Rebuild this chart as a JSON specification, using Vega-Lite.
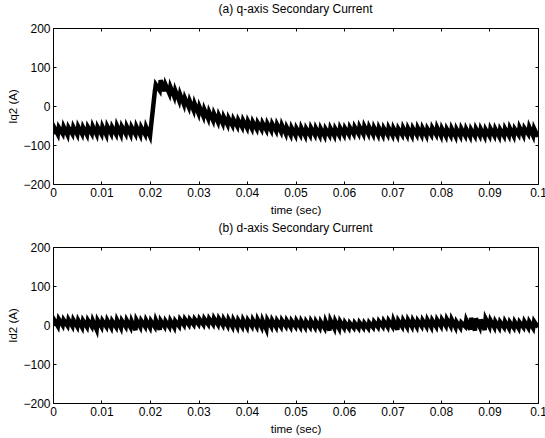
{
"$schema": "https://vega.github.io/schema/vega-lite/v6.json",
"padding": {"left": 7, "top": 2, "right": 0, "bottom": 0},
"background": "white",
"datasets": {"s": [
{"t":0,"q":-72,"d":-2},{"t":0.0002,"q":-54,"d":14},
{"t":0.001,"q":-73,"d":-3},{"t":0.0012,"q":-55,"d":15},
{"t":0.002,"q":-71,"d":-1},{"t":0.0022,"q":-53,"d":13},
{"t":0.003,"q":-74,"d":-2},{"t":0.0032,"q":-55,"d":14},
{"t":0.004,"q":-72,"d":-3},{"t":0.0042,"q":-54,"d":13},
{"t":0.005,"q":-73,"d":-4},{"t":0.0052,"q":-53,"d":12},
{"t":0.006,"q":-72,"d":-6},{"t":0.0062,"q":-55,"d":11},
{"t":0.007,"q":-74,"d":-5},{"t":0.0072,"q":-54,"d":12},
{"t":0.008,"q":-71,"d":-4},{"t":0.0082,"q":-52,"d":11},
{"t":0.009,"q":-73,"d":-12},{"t":0.0092,"q":-54,"d":12},
{"t":0.01,"q":-72,"d":-5},{"t":0.0102,"q":-53,"d":11},
{"t":0.011,"q":-74,"d":-4},{"t":0.0112,"q":-52,"d":12},
{"t":0.012,"q":-71,"d":-6},{"t":0.0122,"q":-54,"d":10},
{"t":0.013,"q":-72,"d":-5},{"t":0.0132,"q":-51,"d":13},
{"t":0.014,"q":-73,"d":-7},{"t":0.0142,"q":-53,"d":11},
{"t":0.015,"q":-71,"d":-4},{"t":0.0152,"q":-52,"d":12},
{"t":0.016,"q":-73,"d":-6},{"t":0.0162,"q":-54,"d":10},
{"t":0.017,"q":-72,"d":-13},{"t":0.0172,"q":-53,"d":13},
{"t":0.018,"q":-74,"d":-5},{"t":0.0182,"q":-55,"d":11},
{"t":0.019,"q":-73,"d":-4},{"t":0.0192,"q":-54,"d":12},
{"t":0.02,"q":-77,"d":-6},{"t":0.0202,"q":-53,"d":10},
{"t":0.021,"q":38,"d":-5},{"t":0.0212,"q":55,"d":12},
{"t":0.022,"q":40,"d":-12},{"t":0.0222,"q":66,"d":11},
{"t":0.023,"q":38,"d":-4},{"t":0.0232,"q":55,"d":10},
{"t":0.024,"q":32,"d":-5},{"t":0.0242,"q":49,"d":11},
{"t":0.025,"q":24,"d":-6},{"t":0.0252,"q":40,"d":10},
{"t":0.026,"q":14,"d":-3},{"t":0.0262,"q":30,"d":14},
{"t":0.027,"q":4,"d":0},{"t":0.0272,"q":20,"d":15},
{"t":0.028,"q":-3,"d":1},{"t":0.0282,"q":13,"d":14},
{"t":0.029,"q":-11,"d":1},{"t":0.0292,"q":6,"d":15},
{"t":0.03,"q":-19,"d":2},{"t":0.0302,"q":-2,"d":15},
{"t":0.031,"q":-26,"d":1},{"t":0.0312,"q":-9,"d":16},
{"t":0.032,"q":-32,"d":2},{"t":0.0322,"q":-15,"d":16},
{"t":0.033,"q":-37,"d":2},{"t":0.0332,"q":-20,"d":17},
{"t":0.034,"q":-41,"d":1},{"t":0.0342,"q":-24,"d":16},
{"t":0.035,"q":-45,"d":0},{"t":0.0352,"q":-28,"d":15},
{"t":0.036,"q":-48,"d":-2},{"t":0.0362,"q":-31,"d":14},
{"t":0.037,"q":-50,"d":-4},{"t":0.0372,"q":-34,"d":13},
{"t":0.038,"q":-52,"d":-5},{"t":0.0382,"q":-36,"d":12},
{"t":0.039,"q":-54,"d":-4},{"t":0.0392,"q":-37,"d":13},
{"t":0.04,"q":-56,"d":-5},{"t":0.0402,"q":-39,"d":12},
{"t":0.041,"q":-58,"d":-3},{"t":0.0412,"q":-41,"d":13},
{"t":0.042,"q":-59,"d":-4},{"t":0.0422,"q":-43,"d":14},
{"t":0.043,"q":-60,"d":-5},{"t":0.0432,"q":-44,"d":12},
{"t":0.044,"q":-62,"d":-11},{"t":0.0442,"q":-45,"d":13},
{"t":0.045,"q":-63,"d":-4},{"t":0.0452,"q":-46,"d":12},
{"t":0.046,"q":-64,"d":-5},{"t":0.0462,"q":-47,"d":11},
{"t":0.047,"q":-66,"d":-4},{"t":0.0472,"q":-49,"d":12},
{"t":0.048,"q":-71,"d":-3},{"t":0.0482,"q":-55,"d":11},
{"t":0.049,"q":-74,"d":-5},{"t":0.0492,"q":-56,"d":10},
{"t":0.05,"q":-75,"d":-4},{"t":0.0502,"q":-57,"d":11},
{"t":0.051,"q":-74,"d":-5},{"t":0.0512,"q":-56,"d":10},
{"t":0.052,"q":-76,"d":-6},{"t":0.0522,"q":-58,"d":9},
{"t":0.053,"q":-75,"d":-5},{"t":0.0532,"q":-56,"d":10},
{"t":0.054,"q":-74,"d":-6},{"t":0.0542,"q":-57,"d":9},
{"t":0.055,"q":-76,"d":-7},{"t":0.0552,"q":-58,"d":8},
{"t":0.056,"q":-77,"d":-8},{"t":0.0562,"q":-59,"d":9},
{"t":0.057,"q":-75,"d":-14},{"t":0.0572,"q":-57,"d":12},
{"t":0.058,"q":-76,"d":-8},{"t":0.0582,"q":-58,"d":10},
{"t":0.059,"q":-75,"d":-9},{"t":0.0592,"q":-56,"d":9},
{"t":0.06,"q":-74,"d":-7},{"t":0.0602,"q":-57,"d":6},
{"t":0.061,"q":-73,"d":-8},{"t":0.0612,"q":-55,"d":5},
{"t":0.062,"q":-72,"d":-7},{"t":0.0622,"q":-54,"d":5},
{"t":0.063,"q":-71,"d":-8},{"t":0.0632,"q":-53,"d":6},
{"t":0.064,"q":-72,"d":-7},{"t":0.0642,"q":-52,"d":5},
{"t":0.065,"q":-71,"d":-8},{"t":0.0652,"q":-54,"d":6},
{"t":0.066,"q":-73,"d":-6},{"t":0.0662,"q":-55,"d":8},
{"t":0.067,"q":-74,"d":-5},{"t":0.0672,"q":-56,"d":9},
{"t":0.068,"q":-75,"d":-4},{"t":0.0682,"q":-57,"d":10},
{"t":0.069,"q":-74,"d":-5},{"t":0.0692,"q":-56,"d":11},
{"t":0.07,"q":-75,"d":-4},{"t":0.0702,"q":-57,"d":12},
{"t":0.071,"q":-76,"d":-12},{"t":0.0712,"q":-58,"d":11},
{"t":0.072,"q":-74,"d":-4},{"t":0.0722,"q":-56,"d":12},
{"t":0.073,"q":-75,"d":-5},{"t":0.0732,"q":-57,"d":13},
{"t":0.074,"q":-76,"d":-4},{"t":0.0742,"q":-57,"d":12},
{"t":0.075,"q":-74,"d":-5},{"t":0.0752,"q":-56,"d":11},
{"t":0.076,"q":-75,"d":-3},{"t":0.0762,"q":-57,"d":12},
{"t":0.077,"q":-76,"d":-4},{"t":0.0772,"q":-58,"d":13},
{"t":0.078,"q":-74,"d":-5},{"t":0.0782,"q":-56,"d":12},
{"t":0.079,"q":-73,"d":-4},{"t":0.0792,"q":-55,"d":13},
{"t":0.08,"q":-76,"d":-3},{"t":0.0802,"q":-58,"d":14},
{"t":0.081,"q":-77,"d":-2},{"t":0.0812,"q":-59,"d":15},
{"t":0.082,"q":-76,"d":-3},{"t":0.0822,"q":-58,"d":14},
{"t":0.083,"q":-78,"d":-6},{"t":0.0832,"q":-59,"d":8},
{"t":0.084,"q":-77,"d":-7},{"t":0.0842,"q":-58,"d":6},
{"t":0.085,"q":-76,"d":-4},{"t":0.0852,"q":-59,"d":12},
{"t":0.086,"q":-78,"d":-12},{"t":0.0862,"q":-60,"d":18},
{"t":0.087,"q":-77,"d":-14},{"t":0.0872,"q":-58,"d":17},
{"t":0.088,"q":-76,"d":-5},{"t":0.0882,"q":-59,"d":14},
{"t":0.089,"q":-78,"d":-13},{"t":0.0892,"q":-60,"d":16},
{"t":0.09,"q":-77,"d":-4},{"t":0.0902,"q":-58,"d":12},
{"t":0.091,"q":-76,"d":-6},{"t":0.0912,"q":-59,"d":9},
{"t":0.092,"q":-78,"d":-7},{"t":0.0922,"q":-60,"d":8},
{"t":0.093,"q":-77,"d":-6},{"t":0.0932,"q":-58,"d":9},
{"t":0.094,"q":-76,"d":-8},{"t":0.0942,"q":-57,"d":7},
{"t":0.095,"q":-77,"d":-7},{"t":0.0952,"q":-59,"d":8},
{"t":0.096,"q":-74,"d":-8},{"t":0.0962,"q":-55,"d":7},
{"t":0.097,"q":-75,"d":-6},{"t":0.0972,"q":-57,"d":9},
{"t":0.098,"q":-72,"d":-7},{"t":0.0982,"q":-54,"d":8},
{"t":0.099,"q":-76,"d":-8},{"t":0.0992,"q":-58,"d":9},
{"t":0.1,"q":-79,"d":-6}
]},
"data": {"name": "s"},
"vconcat": [
{
"title": "(a) q-axis Secondary Current",
"width": 485, "height": 156,
"layer": [
{"mark": {"type": "line", "color": "black", "strokeWidth": 4.5, "strokeJoin": "miter", "clip": true},
 "encoding": {
  "x": {"field": "t", "type": "quantitative", "scale": {"domain": [0, 0.1], "nice": false},
        "axis": {"values": [0,0.01,0.02,0.03,0.04,0.05,0.06,0.07,0.08,0.09,0.1], "format": ".2~f", "title": "time (sec)"}},
  "y": {"field": "q", "type": "quantitative", "scale": {"domain": [-200, 200], "nice": false},
        "axis": {"values": [-200,-100,0,100,200], "title": "Iq2 (A)"}}
 }},
{"mark": {"type": "line", "opacity": 0},
 "encoding": {
  "x": {"field": "t", "type": "quantitative", "scale": {"domain": [0, 0.1], "nice": false},
        "axis": {"orient": "top", "values": [0,0.01,0.02,0.03,0.04,0.05,0.06,0.07,0.08,0.09,0.1], "labels": false, "title": null}},
  "y": {"field": "q", "type": "quantitative", "scale": {"domain": [-200, 200], "nice": false},
        "axis": {"orient": "right", "values": [-200,-100,0,100,200], "labels": false, "title": null}}
 }}
],
"resolve": {"axis": {"x": "independent", "y": "independent"}}
},
{
"title": "(b) d-axis Secondary Current",
"width": 485, "height": 156,
"layer": [
{"mark": {"type": "line", "color": "black", "strokeWidth": 4.5, "strokeJoin": "miter", "clip": true},
 "encoding": {
  "x": {"field": "t", "type": "quantitative", "scale": {"domain": [0, 0.1], "nice": false},
        "axis": {"values": [0,0.01,0.02,0.03,0.04,0.05,0.06,0.07,0.08,0.09,0.1], "format": ".2~f", "title": "time (sec)"}},
  "y": {"field": "d", "type": "quantitative", "scale": {"domain": [-200, 200], "nice": false},
        "axis": {"values": [-200,-100,0,100,200], "title": "Id2 (A)"}}
 }},
{"mark": {"type": "line", "opacity": 0},
 "encoding": {
  "x": {"field": "t", "type": "quantitative", "scale": {"domain": [0, 0.1], "nice": false},
        "axis": {"orient": "top", "values": [0,0.01,0.02,0.03,0.04,0.05,0.06,0.07,0.08,0.09,0.1], "labels": false, "title": null}},
  "y": {"field": "d", "type": "quantitative", "scale": {"domain": [-200, 200], "nice": false},
        "axis": {"orient": "right", "values": [-200,-100,0,100,200], "labels": false, "title": null}}
 }}
],
"resolve": {"axis": {"x": "independent", "y": "independent"}}
}
],
"spacing": 5,
"config": {
 "view": {"stroke": "black", "strokeWidth": 1},
 "font": "Liberation Sans",
 "axis": {"labelFont": "Liberation Sans", "titleFont": "Liberation Sans", "labelFontSize": 12, "titleFontSize": 11.5,
          "titleFontWeight": "normal", "labelColor": "black", "titleColor": "black", "domain": false, "grid": false,
          "tickColor": "black", "tickSize": -3, "labelPadding": 6, "titlePadding": 6, "labelFlush": false, "labelOverlap": false},
 "axisY": {"titlePadding": 4},
 "title": {"font": "Liberation Sans", "fontSize": 12, "fontWeight": "normal", "color": "black", "offset": 6}
}
}
